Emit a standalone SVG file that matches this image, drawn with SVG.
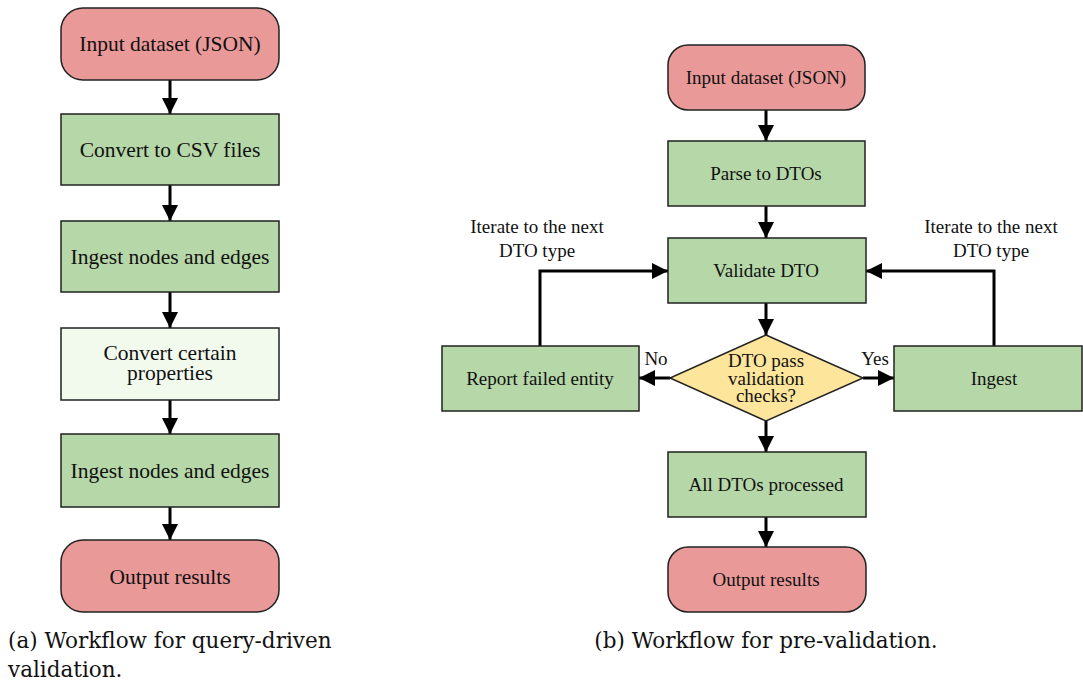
<svg xmlns="http://www.w3.org/2000/svg" width="1083" height="684" viewBox="0 0 1083 684">
  <style>
    .term { fill: #ea9999; stroke: #222; stroke-width: 1.5; }
    .proc { fill: #b6d7a8; stroke: #222; stroke-width: 1.5; }
    .light { fill: #f1faed; stroke: #222; stroke-width: 1.5; }
    .dec { fill: #fde59b; stroke: #222; stroke-width: 1.5; }
    text { font-family: 'Liberation Serif', 'Times New Roman', Times, serif; fill: #111; }
    .lbl { text-anchor: middle; }
    .big { font-size: 21.5px; }
    .small { font-size: 19px; }
    .cap { font-family: 'DejaVu Serif', serif; font-size: 21.5px; }
    .edge { fill: none; stroke: #000; stroke-width: 3; }
  </style>
  <defs>
    <marker id="head" markerUnits="userSpaceOnUse" markerWidth="16" markerHeight="16" viewBox="0 0 16 16" refX="16" refY="8" orient="auto">
      <path d="M0,0 L16,8 L0,16 Z" fill="#000"/>
    </marker>
  </defs>

  <!-- connectors -->
  <g id="connectors">
    <path class="edge" d="M170,80 V114" marker-end="url(#head)"/>
    <path class="edge" d="M170,185 V221" marker-end="url(#head)"/>
    <path class="edge" d="M170,292 V328" marker-end="url(#head)"/>
    <path class="edge" d="M170,400 V434" marker-end="url(#head)"/>
    <path class="edge" d="M170,507 V540" marker-end="url(#head)"/>

    <path class="edge" d="M766,110 V141" marker-end="url(#head)"/>
    <path class="edge" d="M766,206 V238" marker-end="url(#head)"/>
    <path class="edge" d="M766,303 V335" marker-end="url(#head)"/>
    <path class="edge" d="M670,378 H639" marker-end="url(#head)"/>
    <path class="edge" d="M863,378 H894" marker-end="url(#head)"/>
    <path class="edge" d="M766,421 V452" marker-end="url(#head)"/>
    <path class="edge" d="M766,517 V547" marker-end="url(#head)"/>
    <path class="edge" d="M540,346 V271 H668" marker-end="url(#head)"/>
    <path class="edge" d="M994,346 V271 H866" marker-end="url(#head)"/>

    <text class="lbl small" x="537" y="233">Iterate to the next</text>
    <text class="lbl small" x="537" y="257">DTO type</text>
    <text class="lbl small" x="991" y="233">Iterate to the next</text>
    <text class="lbl small" x="991" y="257">DTO type</text>
    <text class="lbl small" x="656" y="365">No</text>
    <text class="lbl small" x="875" y="365">Yes</text>
  </g>

  <!-- (a) query-driven validation -->
  <g id="a-input">
    <rect class="term" x="61" y="8" width="218" height="72" rx="22"/>
    <text class="lbl big" x="170" y="51">Input dataset (JSON)</text>
  </g>
  <g id="a-csv">
    <rect class="proc" x="61" y="114" width="218" height="71"/>
    <text class="lbl big" x="170" y="157">Convert to CSV files</text>
  </g>
  <g id="a-ingest1">
    <rect class="proc" x="61" y="221" width="218" height="71"/>
    <text class="lbl big" x="170" y="264">Ingest nodes and edges</text>
  </g>
  <g id="a-convert">
    <rect class="light" x="61" y="328" width="218" height="72"/>
    <text class="lbl big" x="170" y="360">Convert certain</text>
    <text class="lbl big" x="170" y="380">properties</text>
  </g>
  <g id="a-ingest2">
    <rect class="proc" x="61" y="434" width="218" height="73"/>
    <text class="lbl big" x="170" y="478">Ingest nodes and edges</text>
  </g>
  <g id="a-output">
    <rect class="term" x="61" y="540" width="218" height="72" rx="22"/>
    <text class="lbl big" x="170" y="584">Output results</text>
  </g>
  <text class="cap" x="8" y="648">(a) Workflow for query-driven</text>
  <text class="cap" x="8" y="677">validation.</text>

  <!-- (b) pre-validation -->
  <g id="b-input">
    <rect class="term" x="668" y="45" width="197" height="65" rx="20"/>
    <text class="lbl small" x="766" y="84">Input dataset (JSON)</text>
  </g>
  <g id="b-parse">
    <rect class="proc" x="668" y="141" width="197" height="65"/>
    <text class="lbl small" x="766" y="180">Parse to DTOs</text>
  </g>
  <g id="b-validate">
    <rect class="proc" x="668" y="238" width="198" height="65"/>
    <text class="lbl small" x="766" y="277">Validate DTO</text>
  </g>
  <g id="b-check">
    <polygon class="dec" points="766,335 863,378 766,421 670,378"/>
    <text class="lbl small" x="766" y="367">DTO pass</text>
    <text class="lbl small" x="766" y="385">validation</text>
    <text class="lbl small" x="766" y="402">checks?</text>
  </g>
  <g id="b-report">
    <rect class="proc" x="442" y="346" width="197" height="65"/>
    <text class="lbl small" x="540" y="385">Report failed entity</text>
  </g>
  <g id="b-ingest">
    <rect class="proc" x="894" y="346" width="188" height="65"/>
    <text class="lbl small" x="994" y="385">Ingest</text>
  </g>
  <g id="b-all">
    <rect class="proc" x="668" y="452" width="198" height="65"/>
    <text class="lbl small" x="766" y="491">All DTOs processed</text>
  </g>
  <g id="b-output">
    <rect class="term" x="668" y="547" width="198" height="65" rx="20"/>
    <text class="lbl small" x="766" y="586">Output results</text>
  </g>
  <text class="cap" x="766" y="648" text-anchor="middle">(b) Workflow for pre-validation.</text>
</svg>
